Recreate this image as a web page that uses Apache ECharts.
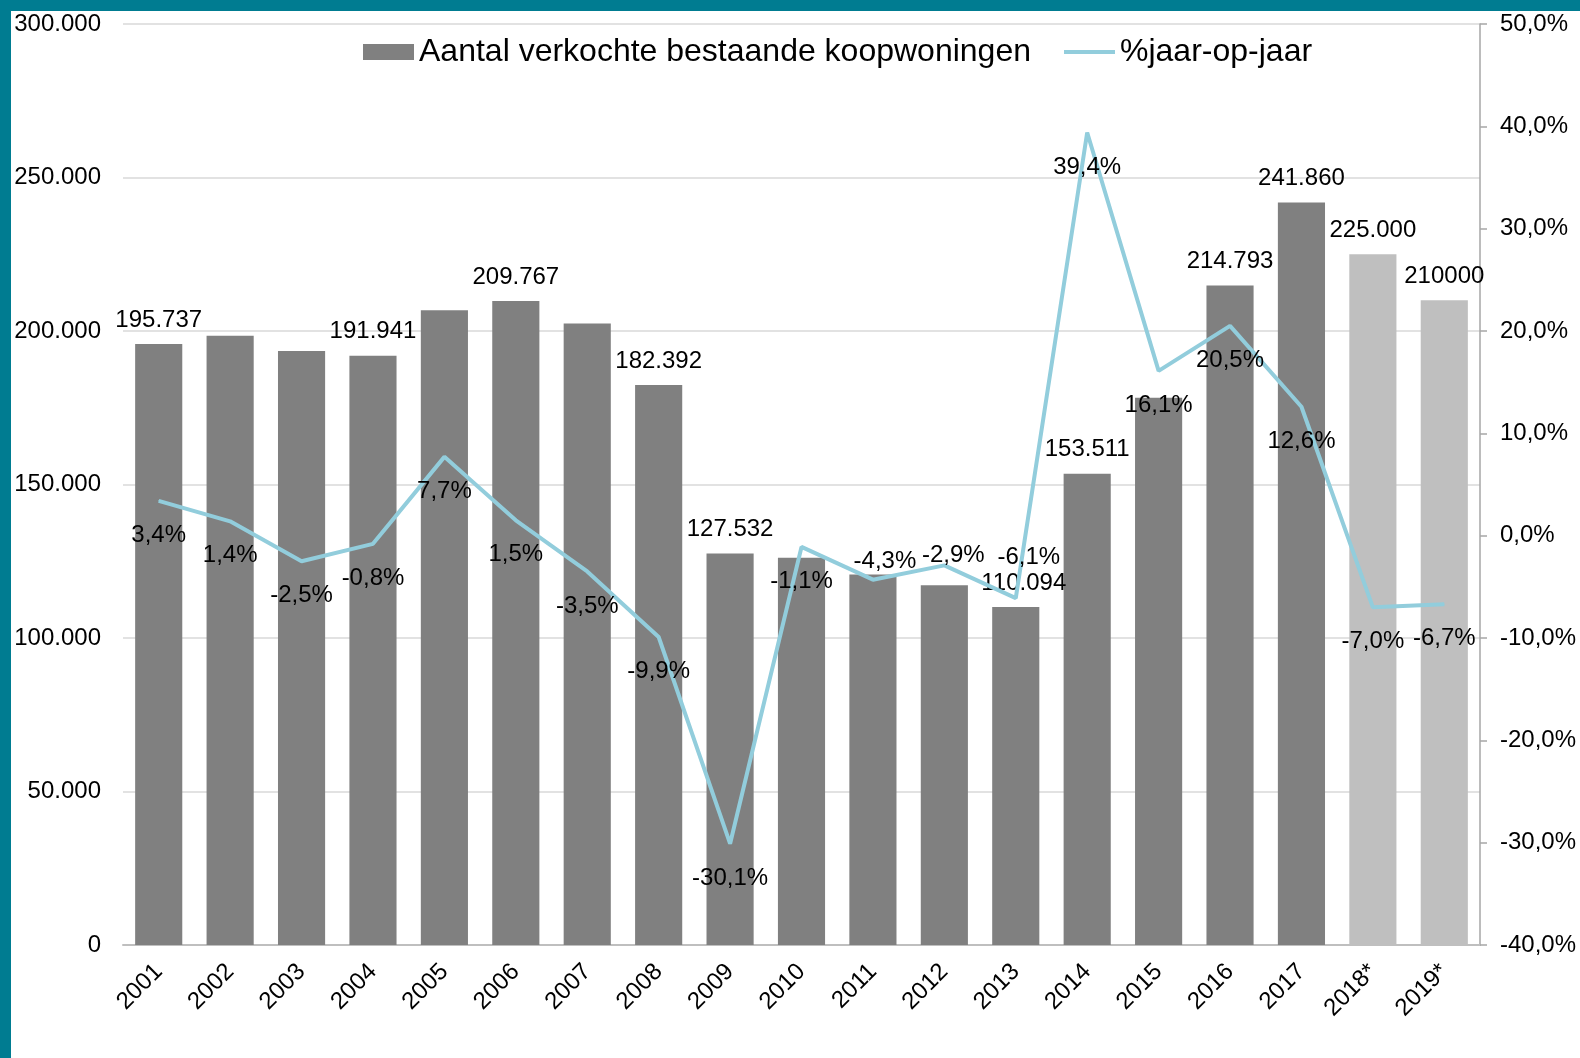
<!DOCTYPE html>
<html>
<head>
<meta charset="utf-8">
<script src="https://cdn.jsdelivr.net/npm/echarts@6/dist/echarts.min.js"></script>
<style>
  html, body { margin: 0; padding: 0; }
  body { background: #007c91; width: 1580px; height: 1058px; position: relative; overflow: hidden; }
  #main { position: absolute; left: 11px; top: 11px; width: 1569px; height: 1047px; background: #fff; }
</style>
</head>
<body>
<div id="main"></div>
<script>
// jaren (met * = prognose)
var years = ['2001', '2002', '2003', '2004', '2005', '2006', '2007', '2008', '2009', '2010',
  '2011', '2012', '2013', '2014', '2015', '2016', '2017', '2018*', '2019*'];
// aantal verkochte bestaande koopwoningen
var sales = [195737, 198477, 193515, 191941, 206720, 209767, 202425, 182392, 127532, 126129,
  120705, 117205, 110094, 153511, 178226, 214793, 241860, 225000, 210000];
// labels boven de staven (null = geen label)
var salesLabels = ['195.737', null, null, '191.941', null, '209.767', null, '182.392', '127.532', null,
  null, null, '110.094', '153.511', null, '214.793', '241.860', '225.000', '210000'];
// % jaar-op-jaar
var pctChange = [3.4, 1.4, -2.5, -0.8, 7.7, 1.5, -3.5, -9.9, -30.1, -1.1,
  -4.3, -2.9, -6.1, 39.4, 16.1, 20.5, 12.6, -7.0, -6.7];
var leftTicks = { min: 0, max: 300000, interval: 50000 };
var rightTicks = { min: -40, max: 50, interval: 10 };

var FONT = '"Liberation Sans", Arial, sans-serif';
var FS = 24;

function fmtThousands(v) {
  return String(v).replace(/\B(?=(\d{3})+(?!\d))/g, '.');
}
function fmtPct(v) {
  return v.toFixed(1).replace('.', ',') + '%';
}

// labels die boven de lijn staan i.p.v. eronder (+ kleine verschuiving naar rechts)
var labelAbove = {
  10: { distance: 6, dx: 12 },
  11: { distance: -3, dx: 9 },
  12: { distance: 28, dx: 13 }
};

var barData = sales.map(function (v, i) {
  var forecast = years[i].indexOf('*') >= 0;
  return {
    value: v,
    itemStyle: { color: forecast ? '#bfbfbf' : '#808080' },
    label: {
      show: salesLabels[i] !== null,
      formatter: salesLabels[i] || ''
    }
  };
});

var lineData = pctChange.map(function (v, i) {
  var item = { value: v };
  if (labelAbove[i]) {
    item.label = { position: 'top', distance: labelAbove[i].distance };
  }
  return item;
});

var chart = echarts.init(document.getElementById('main'));
var option = {
  animation: false,
  textStyle: { fontFamily: FONT },
  legend: {
    left: 347,
    top: 20,
    itemWidth: 51,
    itemHeight: 16,
    itemGap: 31,
    textStyle: { fontSize: 32, color: '#000', fontFamily: FONT },
    data: [
      { name: 'Aantal verkochte bestaande koopwoningen', icon: 'rect' },
      { name: '%jaar-op-jaar', itemStyle: { opacity: 0 }, lineStyle: { width: 4 } }
    ]
  },
  grid: { left: 112, right: 100, top: 13, bottom: 113 },
  xAxis: {
    type: 'category',
    data: years,
    axisLine: { lineStyle: { color: '#bfbfbf', width: 2 } },
    axisTick: { show: false },
    axisLabel: { rotate: 45, fontSize: FS, color: '#000', margin: 23, fontFamily: FONT, interval: 0 }
  },
  yAxis: [
    {
      type: 'value',
      min: leftTicks.min, max: leftTicks.max, interval: leftTicks.interval,
      axisLine: { show: false },
      axisTick: { show: false },
      splitLine: { lineStyle: { color: '#d9d9d9', width: 1.5 } },
      axisLabel: { fontSize: FS, color: '#000', margin: 22, fontFamily: FONT, formatter: fmtThousands }
    },
    {
      type: 'value',
      min: rightTicks.min, max: rightTicks.max, interval: rightTicks.interval,
      position: 'right',
      axisLine: { show: true, lineStyle: { color: '#a6a6a6', width: 1.5 } },
      axisTick: { show: true, length: 7, lineStyle: { color: '#a6a6a6', width: 1.5 } },
      splitLine: { show: false },
      axisLabel: { fontSize: FS, color: '#000', margin: 20, fontFamily: FONT, formatter: fmtPct }
    }
  ],
  series: [
    {
      name: 'Aantal verkochte bestaande koopwoningen',
      type: 'bar',
      yAxisIndex: 0,
      barCategoryGap: '34%',
      itemStyle: { color: '#808080' },
      label: { position: 'top', distance: 12, fontSize: FS, color: '#000', fontFamily: FONT },
      labelLayout: function (p) {
        return { dx: p.dataIndex === 12 ? 8 : 0, hideOverlap: false };
      },
      data: barData
    },
    {
      name: '%jaar-op-jaar',
      type: 'line',
      yAxisIndex: 1,
      symbol: 'circle',
      symbolSize: 1,
      showSymbol: true,
      lineStyle: { color: '#92cddc', width: 4 },
      itemStyle: { color: '#92cddc' },
      label: {
        show: true,
        position: 'bottom',
        distance: 22,
        fontSize: FS,
        color: '#000',
        fontFamily: FONT,
        formatter: function (p) { return fmtPct(p.value); }
      },
      labelLayout: function (p) {
        var a = labelAbove[p.dataIndex];
        return { dx: a ? a.dx : 0, hideOverlap: false };
      },
      data: lineData,
      z: 3
    }
  ]
};
chart.setOption(option);
</script>
</body>
</html>
